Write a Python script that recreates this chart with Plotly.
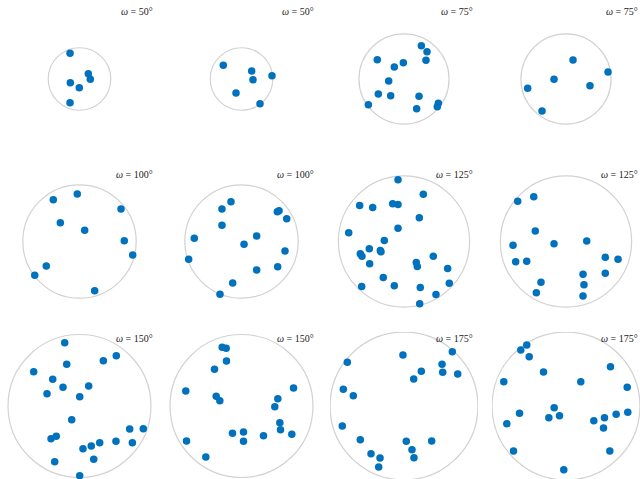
import plotly.graph_objects as go
import math

W, H = 640, 479
R_PX = 74.0  # pixels per data unit

omegas = [50, 50, 75, 75, 100, 100, 125, 125, 150, 150, 175, 175]
titles = ["<i>ω</i> = %d°" % w for w in omegas]

p1_x = [-0.128, 0.119, 0.146, -0.124, -0.003, -0.128]
p1_y = [0.347, 0.072, -0.004, -0.05, -0.118, -0.32]

p2_x = [-0.246, 0.138, 0.155, 0.412, -0.074, 0.25]
p2_y = [0.185, 0.108, -0.009, 0.045, -0.189, -0.334]

p3_x = [0.234, 0.311, 0.297, -0.361, -0.131, -0.009, -0.207, -0.347, -0.18, -0.482, 0.203, 0.171, 0.464, 0.45]
p3_y = [0.45, 0.369, 0.253, 0.261, 0.162, 0.22, -0.027, -0.203, -0.226, -0.347, -0.234, -0.401, -0.328, -0.374]

p4_x = [0.095, 0.568, -0.162, -0.518, 0.324, -0.324]
p4_y = [0.257, 0.095, -0.004, -0.126, -0.09, -0.432]

p5_x = [-0.354, -0.03, 0.561, -0.259, 0.07, 0.605, 0.719, -0.449, -0.605, 0.205]
p5_y = [0.565, 0.642, 0.439, 0.254, 0.151, 0.011, -0.182, -0.331, -0.457, -0.665]

p6_x = [-0.142, -0.264, 0.484, 0.507, 0.611, -0.264, 0.205, -0.638, 0.034, 0.588, -0.714, 0.205, 0.489, -0.119, -0.291]
p6_y = [0.538, 0.439, 0.403, 0.416, 0.308, 0.219, 0.074, 0.043, -0.038, -0.128, -0.241, -0.385, -0.341, -0.561, -0.714]

p7_x = [-0.081, 0.261, -0.599, -0.423, -0.153, -0.081, 0.207, -0.081, -0.747, -0.266, -0.469, -0.32, -0.311, -0.59,
        -0.568, -0.464, 0.396, 0.166, 0.18, 0.59, 0.612, -0.28, -0.572, -0.131, 0.22, 0.432, 0.212]
p7_y = [0.834, 0.638, 0.486, 0.459, 0.509, 0.5, 0.32, 0.18, 0.117, 0.014, -0.099, -0.122, -0.139, -0.166,
        -0.198, -0.3, -0.198, -0.284, -0.338, -0.365, -0.563, -0.486, -0.608, -0.599, -0.622, -0.716, -0.842]

p8_x = [-0.653, -0.436, -0.415, -0.716, -0.162, 0.28, -0.68, -0.531, 0.531, 0.703, 0.23, 0.531, -0.338, 0.243, -0.401, 0.23]
p8_y = [0.543, 0.605, 0.142, -0.051, -0.03, 0.007, -0.273, -0.268, -0.214, -0.241, -0.443, -0.43, -0.551, -0.584, -0.692, -0.736]

p9_x = [-0.2, 0.497, 0.322, -0.173, -0.619, -0.362, -0.223, 0.124, -0.439, 0.003, -0.105, 0.678, 0.862, -0.314,
        -0.385, 0.493, 0.714, 0.273, 0.159, 0.047, 0.192, -0.335, 0.003]
p9_y = [0.855, 0.68, 0.612, 0.563, 0.464, 0.361, 0.253, 0.27, 0.166, 0.126, -0.185, -0.311, -0.307, -0.41,
        -0.442, -0.477, -0.496, -0.496, -0.541, -0.577, -0.721, -0.752, -0.941]

p10_x = [-0.261, -0.207, -0.203, -0.365, -0.753, -0.342, -0.293, 0.703, 0.491, 0.45, 0.518, 0.527, 0.68, 0.297,
         -0.122, 0.027, 0.027, -0.743, -0.482]
p10_y = [0.793, 0.779, 0.608, 0.495, 0.203, 0.131, 0.072, 0.243, 0.099, -0.009, -0.225, -0.32, -0.383, -0.401,
         -0.369, -0.351, -0.477, -0.473, -0.689]

p11_x = [-0.014, 0.653, 0.514, 0.523, 0.726, 0.234, 0.131, -0.766, -0.82, -0.685, -0.834, -0.591, 0.031, 0.374,
         0.108, 0.135, -0.446, -0.324, -0.342]
p11_y = [0.689, 0.734, 0.564, 0.455, 0.432, 0.468, 0.365, 0.59, 0.225, 0.139, -0.27, -0.455, -0.477, -0.473,
         -0.59, -0.698, -0.644, -0.703, -0.824]

p12_x = [-0.53, -0.611, -0.497, -0.304, 0.2, 0.601, -0.841, 0.827, -0.16, -0.232, -0.088, -0.628, -0.8, 0.376,
         0.52, 0.507, 0.678, 0.835, -0.709, 0.592, -0.03]
p12_y = [0.824, 0.757, 0.667, 0.459, 0.329, 0.532, 0.329, 0.252, -0.023, -0.158, -0.131, -0.099, -0.239, -0.198,
         -0.158, -0.297, -0.113, -0.086, -0.608, -0.608, -0.86]

xs = [p1_x, p2_x, p3_x, p4_x, p5_x, p6_x, p7_x, p8_x, p9_x, p10_x, p11_x, p12_x]
ys = [p1_y, p2_y, p3_y, p4_y, p5_y, p6_y, p7_y, p8_y, p9_y, p10_y, p11_y, p12_y]

col_centers = [79.5, 241.5, 404.0, 566.0]
row_centers = [79.0, 241.5, 406.0]
title_right = [154.5, 315.5, 474.5, 639.5]

fig = go.Figure()
layout = dict(width=W, height=H, margin=dict(l=0, r=0, t=0, b=0),
              paper_bgcolor="white", plot_bgcolor="white", showlegend=False)
shapes = []
annotations = []

for i in range(12):
    r, c = divmod(i, 4)
    cx, cy = col_centers[c], row_centers[r]
    left, right = max(0.0, cx - R_PX), min(W, cx + R_PX)
    top, bottom = max(0.0, cy - R_PX), min(H, cy + R_PX)
    xr = [(left - cx) / R_PX, (right - cx) / R_PX]
    yr = [(cy - bottom) / R_PX, (cy - top) / R_PX]
    xd = [left / W, right / W]
    yd = [1 - bottom / H, 1 - top / H]
    n = "" if i == 0 else str(i + 1)
    ax = dict(domain=xd, range=xr, visible=False, showgrid=False, zeroline=False, fixedrange=True)
    ay = dict(domain=yd, range=yr, visible=False, showgrid=False, zeroline=False, fixedrange=True)
    ax["anchor"] = "y" + n
    ay["anchor"] = "x" + n
    layout["xaxis" + n] = ax
    layout["yaxis" + n] = ay
    rad = math.sin(math.radians(omegas[i] / 2))
    shapes.append(dict(type="circle", xref="x" + n, yref="y" + n, x0=-rad, x1=rad, y0=-rad, y1=rad,
                       line=dict(color="#d2d2d2", width=1.2), layer="below"))
    fig.add_trace(go.Scatter(x=xs[i], y=ys[i], mode="markers", xaxis="x" + n, yaxis="y" + n,
                             marker=dict(color="#0072BD", size=7.5, line=dict(width=0)),
                             cliponaxis=False, hoverinfo="skip"))
    annotations.append(dict(text=titles[i], xref="paper", yref="paper",
                            x=title_right[c] / W, y=1 - (cy - 67.5) / H,
                            xanchor="right", yanchor="middle", showarrow=False,
                            font=dict(family="Liberation Serif, serif", size=10, color="#222222")))

layout["shapes"] = shapes
layout["annotations"] = annotations
fig.update_layout(**layout)
fig.write_html("out.html", config={"displayModeBar": False},
               post_script="document.body.style.margin='0';document.body.style.padding='0';document.body.style.overflow='hidden';")
